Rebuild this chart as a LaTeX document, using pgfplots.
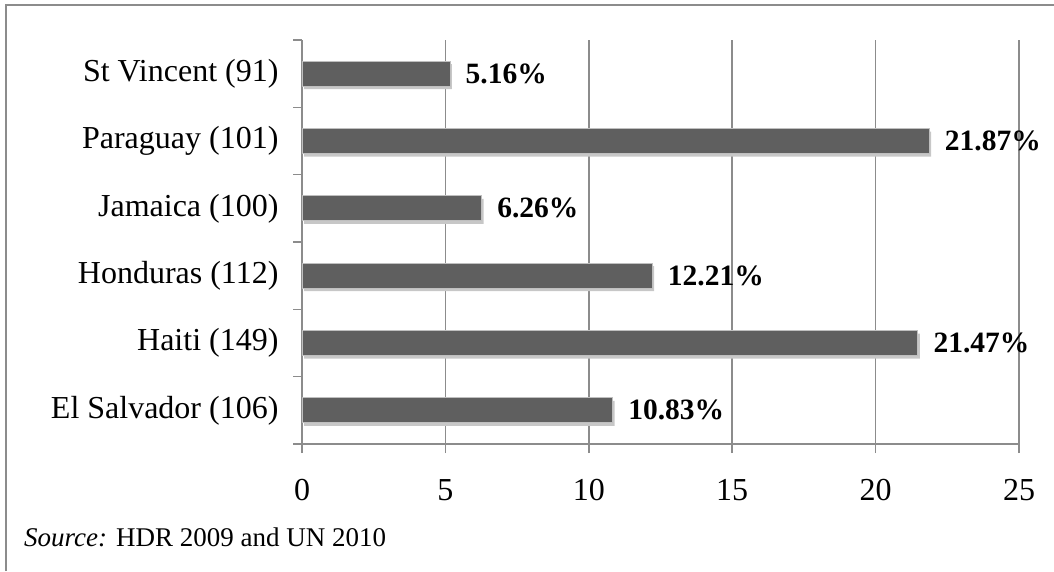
\documentclass[border=0pt]{standalone}
\usepackage{pgfplots}
\pgfplotsset{compat=1.18}
\usepackage{fontspec}
\setmainfont{Liberation Serif}
\definecolor{barc}{HTML}{5F5F5F}
\definecolor{gridc}{HTML}{8C8C8C}
\begin{document}
\begin{tikzpicture}[x=1pt,y=1pt]
\useasboundingbox (0,0) rectangle (1054,571);
\draw[gridc, line width=2pt] (6,0) -- (6,566) -- (1054,566);
\begin{axis}[
 at={(302pt,127pt)}, anchor=south west,
 scale only axis, width=717pt, height=404pt,
 xmin=0, xmax=25, ymin=-0.5, ymax=5.5,
 axis x line*=bottom, axis y line*=left,
 axis line style={gridc, line width=1.5pt},
 xtick={0,5,...,25},
 ytick={-0.5,0.5,...,5.5},
 y tick label as interval,
 yticklabels={El Salvador (106), Haiti (149), Honduras (112), Jamaica (100), Paraguay (101), St Vincent (91)},
 tick align=outside, major tick length=9pt,
 tick style={gridc, line width=1.5pt},
 xmajorgrids, grid style={gridc, line width=1.5pt},
 ticklabel style={font=\fontsize{32}{38}\selectfont},
 yticklabel style={xshift=-11pt},
 xticklabel style={yshift=-23pt},
 /pgf/number format/assume math mode=true,
 xbar, bar width=25pt,
 clip=false,
]
\addplot[fill=black!22, draw=none, bar shift=-3pt, xshift=2pt, forget plot] coordinates {(10.83,0) (21.47,1) (12.21,2) (6.26,3) (21.87,4) (5.16,5)};
\addplot[fill=barc, draw=white!75!black, line width=0.8pt, bar shift=0pt,
 nodes near coords, point meta=x,
 nodes near coords style={font=\fontsize{29.5}{35}\selectfont\bfseries, anchor=west, xshift=12pt, text=black},
 nodes near coords={\pgfmathprintnumber[fixed,precision=2,fixed zerofill]{\pgfplotspointmeta}\%},
] coordinates {(10.83,0) (21.47,1) (12.21,2) (6.26,3) (21.87,4) (5.16,5)};
\end{axis}
\node[anchor=base west, font=\fontsize{27}{32}\selectfont, inner sep=0pt] at (24,25) {\textit{Source:} HDR 2009 and UN 2010};
\end{tikzpicture}
\end{document}
